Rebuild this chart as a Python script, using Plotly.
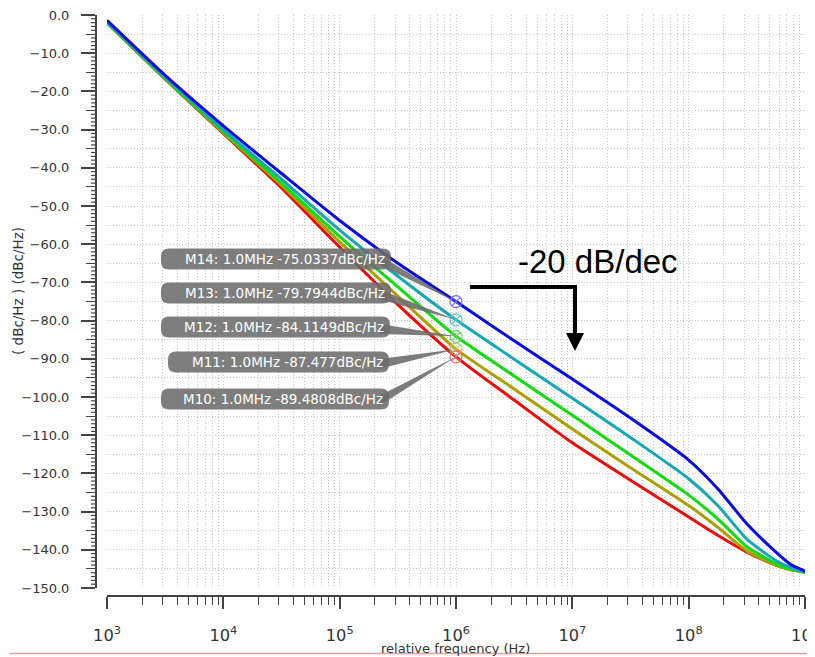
import math
import plotly.graph_objects as go

# ---------------- data ----------------
freq_hz = [1e3, 3.162e3, 1e4, 3.162e4, 1e5, 3.162e5, 1e6, 3.162e6, 1e7,
           3.162e7, 1e8, 1.778e8, 3.162e8, 5.623e8, 7.499e8, 1e9]
pn_m14 = [-1.4, -15.8, -29.0, -41.5, -53.8, -65.0, -75.03, -85.3, -95.3,
          -105.5, -116.5, -124.0, -133.2, -140.6, -143.8, -145.6]
pn_m13 = [-1.8, -16.3, -30.0, -43.0, -56.3, -68.4, -79.79, -90.1, -100.3,
          -110.6, -121.4, -128.4, -137.2, -142.8, -144.6, -145.9]
pn_m12 = [-2.0, -16.6, -30.5, -44.0, -58.0, -71.2, -84.11, -94.5, -104.8,
          -115.2, -125.7, -131.9, -139.2, -143.6, -145.0, -145.9]
pn_m11 = [-2.0, -16.7, -30.8, -44.6, -59.4, -73.6, -87.48, -97.9, -108.4,
          -118.5, -128.4, -134.1, -140.3, -144.0, -145.2, -145.9]
pn_m10 = [-2.1, -16.8, -31.0, -45.3, -60.8, -75.8, -89.48, -100.8, -112.0,
          -121.8, -131.4, -136.2, -140.6, -144.0, -145.2, -145.9]

marker_names = ["M14", "M13", "M12", "M11", "M10"]
marker_freq = 1e6
marker_vals = [-75.0337, -79.7944, -84.1149, -87.477, -89.4808]
marker_texts = ["M14: 1.0MHz -75.0337dBc/Hz", "M13: 1.0MHz -79.7944dBc/Hz",
                "M12: 1.0MHz -84.1149dBc/Hz", "M11: 1.0MHz -87.477dBc/Hz",
                "M10: 1.0MHz -89.4808dBc/Hz"]

series = [pn_m14, pn_m13, pn_m12, pn_m11, pn_m10]
line_colors = ["#0a0ae6", "#14a8b4", "#10dc10", "#aaa000", "#ee0a0a"]
mark_colors = ["#6a6aff", "#5cc4cc", "#5cd85c", "#c4c05a", "#ff6464"]

# ---------------- geometry (page pixels; the page body has an 8px margin) ----------------
OFF = 8
PAGE_W, PAGE_H = 815, 657
W, H = PAGE_W - OFF, PAGE_H - OFF
AX_LEFT_PG, AX_BOT_PG = 96, 596      # y-axis line x, x-axis line y (page px)
PLOT_RIGHT_PG, PLOT_TOP_PG = 805, 15
X_LEFT_PG, Y_BOT_PG = 107, 588       # 10^3 and -150 (page px)

ML = AX_LEFT_PG - OFF
MT = PLOT_TOP_PG - OFF
MR = PAGE_W - PLOT_RIGHT_PG
MB = H - (AX_BOT_PG - OFF)
PW, PH = W - ML - MR, H - MT - MB
dx0 = (X_LEFT_PG - AX_LEFT_PG) / PW
dy0 = (AX_BOT_PG - Y_BOT_PG) / PH


def pp(px, py):
    return (px - AX_LEFT_PG) / PW, (AX_BOT_PG - py) / PH


def d2px(f, v):
    x = X_LEFT_PG + (math.log10(f) - 3) / 6 * (PLOT_RIGHT_PG - X_LEFT_PG)
    y = PLOT_TOP_PG + (-v) / 150 * (Y_BOT_PG - PLOT_TOP_PG)
    return x, y


def path_px(points, close=True):
    s = ""
    for i, (x, y) in enumerate(points):
        a, b = pp(x, y)
        s += ("M" if i == 0 else "L") + f"{a:.5f},{b:.5f} "
    return s + ("Z" if close else "")


def rrect_px(x0, y0, x1, y1, r):
    def P(x, y):
        a, b = pp(x, y)
        return f"{a:.5f},{b:.5f}"
    return (f"M{P(x0 + r, y0)} L{P(x1 - r, y0)} Q{P(x1, y0)} {P(x1, y0 + r)} "
            f"L{P(x1, y1 - r)} Q{P(x1, y1)} {P(x1 - r, y1)} L{P(x0 + r, y1)} "
            f"Q{P(x0, y1)} {P(x0, y1 - r)} L{P(x0, y0 + r)} Q{P(x0, y0)} {P(x0 + r, y0)} Z")


fig = go.Figure()

# curves (red drawn first, blue on top)
for vals, col, name in reversed(list(zip(series, line_colors, marker_names))):
    fig.add_trace(go.Scatter(x=freq_hz, y=vals, mode="lines", name=name,
                             line=dict(color=col, width=3, shape="spline", smoothing=0.6),
                             showlegend=False))

# markers at 1 MHz
for v, mc, name in zip(marker_vals, mark_colors, marker_names):
    fig.add_trace(go.Scatter(x=[marker_freq], y=[v], mode="markers", showlegend=False,
                             marker=dict(symbol="circle-x-open", size=12, color=mc,
                                         line=dict(width=1.2, color=mc))))

shapes = []
annotations = []

# y-axis 1-unit minor ticks
for v in range(-149, 0):
    if v % 5 == 0:
        continue
    yp = dy0 + (1 - dy0) * (v + 150) / 150
    shapes.append(dict(type="line", xref="paper", yref="paper", x0=-5 / PW, x1=0,
                       y0=yp, y1=yp, line=dict(color="#444", width=1.2)))

# marker labels: boxes, callout wedges and texts
box_cy = [259, 293, 327, 362, 399]
box_left = [161, 161, 161, 168, 161]
box_right = [391, 391, 390, 389, 389]
BH = 21
for i in range(5):
    cy = box_cy[i]
    R = box_right[i]
    tx, ty = d2px(marker_freq, marker_vals[i])
    shapes.append(dict(type="path", xref="paper", yref="paper", layer="above",
                       path=path_px([(R - 10, cy - 3), (R - 10, cy + 7), (tx, ty)]),
                       fillcolor="rgba(110,110,110,0.9)", line=dict(width=0)))
    shapes.append(dict(type="path", xref="paper", yref="paper", layer="above",
                       path=rrect_px(box_left[i], cy - BH / 2, R, cy + BH / 2, 8),
                       fillcolor="rgba(108,108,108,0.88)", line=dict(width=0)))
    ax, ay = pp(R - 4, cy)
    annotations.append(dict(x=ax, y=ay, xref="paper", yref="paper", text=marker_texts[i],
                            showarrow=False, xanchor="right", yanchor="middle",
                            font=dict(family="DejaVu Sans", size=13.5, color="white")))

# -20 dB/dec arrow
shapes.append(dict(type="path", xref="paper", yref="paper", layer="above",
                   path=path_px([(470, 287), (575, 287), (575, 336)], close=False),
                   line=dict(color="black", width=4)))
shapes.append(dict(type="path", xref="paper", yref="paper", layer="above",
                   path=path_px([(566, 333), (584, 333), (575, 351)]),
                   fillcolor="black", line=dict(width=0)))
ax, ay = pp(598, 261)
annotations.append(dict(x=ax, y=ay, xref="paper", yref="paper", text="-20 dB/dec",
                        showarrow=False, xanchor="center", yanchor="middle",
                        font=dict(family="Liberation Sans", size=33, color="black")))

# axis titles
ax, ay = pp(18, 291)
annotations.append(dict(x=ax, y=ay, xref="paper", yref="paper", text="( dBc/Hz ) (dBc/Hz)",
                        showarrow=False, textangle=-90, xanchor="center", yanchor="middle",
                        font=dict(family="DejaVu Sans", size=13.5, color="#333")))
ax, ay = pp(455, 648)
annotations.append(dict(x=ax, y=ay, xref="paper", yref="paper", text="relative frequency (Hz)",
                        showarrow=False, xanchor="center", yanchor="middle",
                        font=dict(family="DejaVu Sans", size=13, color="#333")))

# pink bottom rule
x0p, yb = pp(10, 653.5)
x1p, _ = pp(815, 653.5)
shapes.append(dict(type="line", xref="paper", yref="paper", x0=x0p, x1=x1p, y0=yb, y1=yb,
                   line=dict(color="#e8a0a0", width=1.5)))

grid_col = "#c8c8c8"
fig.update_layout(
    template="none",
    width=W, height=H,
    margin=dict(l=ML, r=MR, t=MT, b=MB, pad=0),
    paper_bgcolor="white", plot_bgcolor="white",
    showlegend=False,
    xaxis=dict(type="log", range=[3, 9], domain=[dx0, 1], anchor="free", position=0,
               dtick=1, exponentformat="power", showexponent="all",
               ticks="outside", ticklen=12, tickwidth=1.5, tickcolor="#444",
               showline=True, linecolor="#444", linewidth=2,
               showgrid=True, gridcolor=grid_col, griddash="1px,2px", gridwidth=1,
               zeroline=False, automargin=False, ticklabelstandoff=13,
               ticklabeloverflow="allow",
               tickfont=dict(family="DejaVu Sans", size=13, color="#333"),
               minor=dict(dtick="D1", ticks="outside", ticklen=8, tickwidth=1.2,
                          tickcolor="#444", showgrid=True, gridcolor=grid_col,
                          griddash="1px,2px", gridwidth=1)),
    yaxis=dict(range=[-150, 0], domain=[dy0, 1], anchor="free", position=0,
               dtick=10, tickformat=".1f",
               ticks="outside", ticklen=14, tickwidth=1.5, tickcolor="#444",
               showline=True, linecolor="#444", linewidth=2,
               showgrid=True, gridcolor=grid_col, griddash="1px,2px", gridwidth=1,
               zeroline=False, automargin=False, ticklabelstandoff=9,
               ticklabeloverflow="allow",
               tickfont=dict(family="DejaVu Sans", size=13, color="#333"),
               minor=dict(dtick=5, ticks="outside", ticklen=9, tickwidth=1.2,
                          tickcolor="#444", showgrid=True, gridcolor=grid_col,
                          griddash="1px,2px", gridwidth=1)),
    shapes=shapes,
    annotations=annotations,
)

fig.write_html("out.html")
